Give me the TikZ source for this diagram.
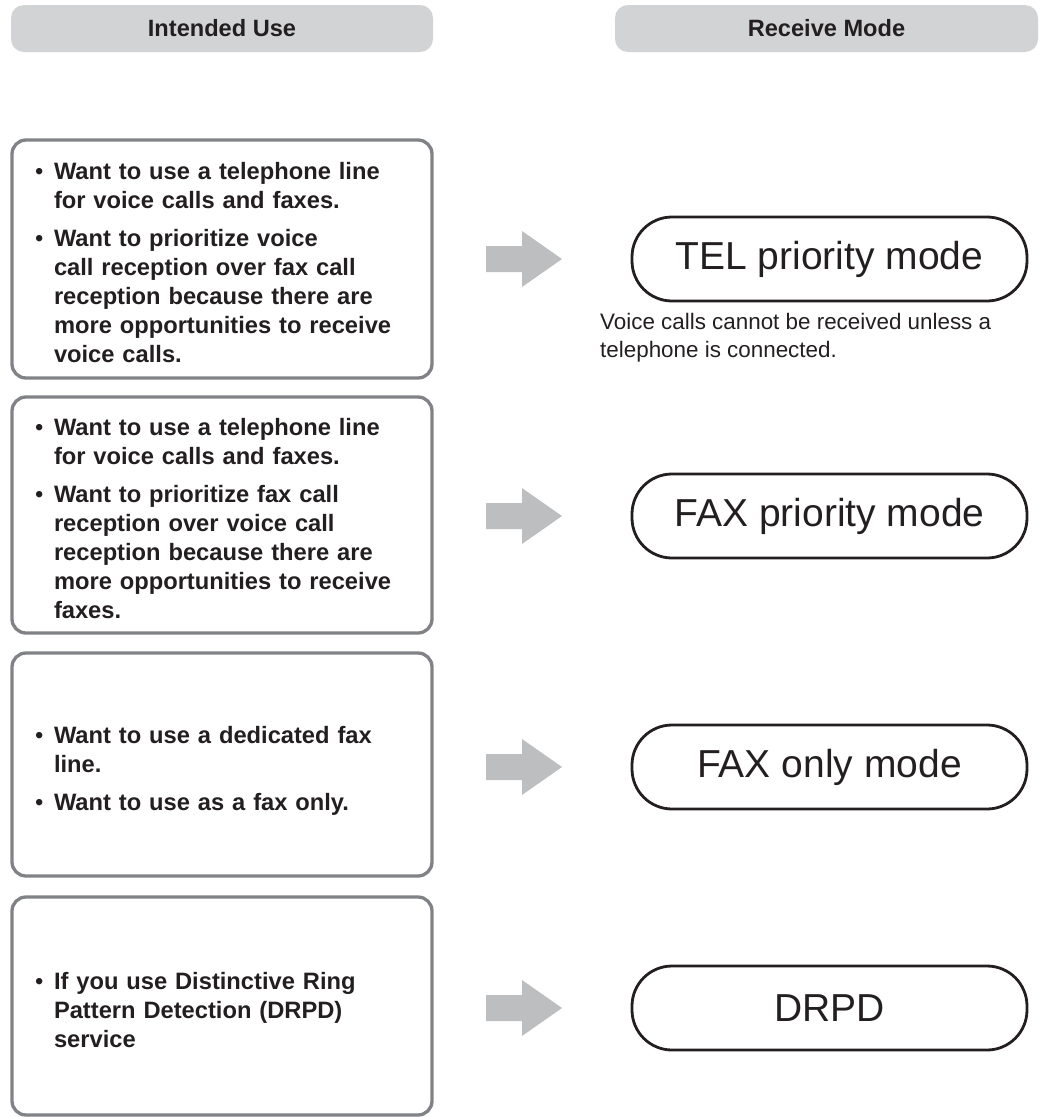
\documentclass[tikz,border=0pt]{standalone}
\usepackage{fontspec}
\setmainfont{Liberation Sans}
\definecolor{ink}{HTML}{231F20}
\definecolor{boxgray}{HTML}{808285}
\definecolor{headfill}{HTML}{D1D3D4}
\definecolor{arrowgray}{HTML}{BCBEC0}
\newcommand{\bulletmark}{{\fontseries{m}\selectfont •}}
\newenvironment{bulletlist}{\vspace*{12pt}\par\noindent\begin{tabular}{@{}p{19pt}@{}l@{}}}{\end{tabular}}
\begin{document}
\begin{tikzpicture}[x=1pt,y=-1pt,
  header/.style={fill=headfill, rounded corners=13pt, minimum width=422pt, minimum height=47pt, inner sep=0pt, text=ink, font=\fontsize{23.6}{28}\selectfont\bfseries},
  usebox/.style={draw=boxgray, line width=3.3pt, rounded corners=14pt, minimum width=420pt, text width=374pt, inner xsep=23pt, inner ysep=0pt, align=left, text=ink, font=\fontsize{23.7}{29}\selectfont\bfseries},
  modebox/.style={draw=ink, line width=2.8pt, rounded corners=40pt, minimum width=395pt, minimum height=84pt, inner sep=0pt, text=ink, font=\fontsize{39}{44}\selectfont},
  note/.style={inner sep=0pt, align=left, text=ink, font=\fontsize{22.4}{28}\selectfont}
]
\useasboundingbox (0,0) rectangle (1040,1117);

% headers
\node[header] (h1) at (222,28.5) {Intended Use};
\node[header, minimum width=423pt] (h2) at (826.5,28.5) {Receive Mode};

% intended use boxes
\node[usebox, minimum height=238pt] (u1) at (222,259) {\begin{bulletlist}
\bulletmark & Want to use a telephone line\\
 & for voice calls and faxes.\\[9pt]
\bulletmark & Want to prioritize voice\\
 & call reception over fax call\\
 & reception because there are\\
 & more opportunities to receive\\
 & voice calls.
\end{bulletlist}};

\node[usebox, minimum height=236pt] (u2) at (222,515) {\begin{bulletlist}
\bulletmark & Want to use a telephone line\\
 & for voice calls and faxes.\\[9pt]
\bulletmark & Want to prioritize fax call\\
 & reception over voice call\\
 & reception because there are\\
 & more opportunities to receive\\
 & faxes.
\end{bulletlist}};

\node[usebox, minimum height=223pt] (u3) at (222,764.5) {\begin{bulletlist}
\bulletmark & Want to use a dedicated fax\\
 & line.\\[9pt]
\bulletmark & Want to use as a fax only.
\end{bulletlist}};

\node[usebox, minimum height=218pt] (u4) at (222,1006) {\begin{bulletlist}
\bulletmark & If you use Distinctive Ring\\
 & Pattern Detection (DRPD)\\
 & service
\end{bulletlist}};

% receive modes
\node[modebox] (m1) at (829.5,259) {TEL priority mode};
\node[modebox] (m2) at (829.5,516) {FAX priority mode};
\node[modebox] (m3) at (829.5,767) {FAX only mode};
\node[modebox] (m4) at (829.5,1008) {DRPD};

\node[note, anchor=north west] (n1) at (600,313) {Voice calls cannot be received unless a\\telephone is connected.};

% block arrows
\foreach \y in {259,516,767,1008}{
  \fill[arrowgray] (486,\y-13) -- (522,\y-13) -- (522,\y-28) -- (562,\y)
     -- (522,\y+28) -- (522,\y+13) -- (486,\y+13) -- cycle;
}
\end{tikzpicture}
\end{document}
